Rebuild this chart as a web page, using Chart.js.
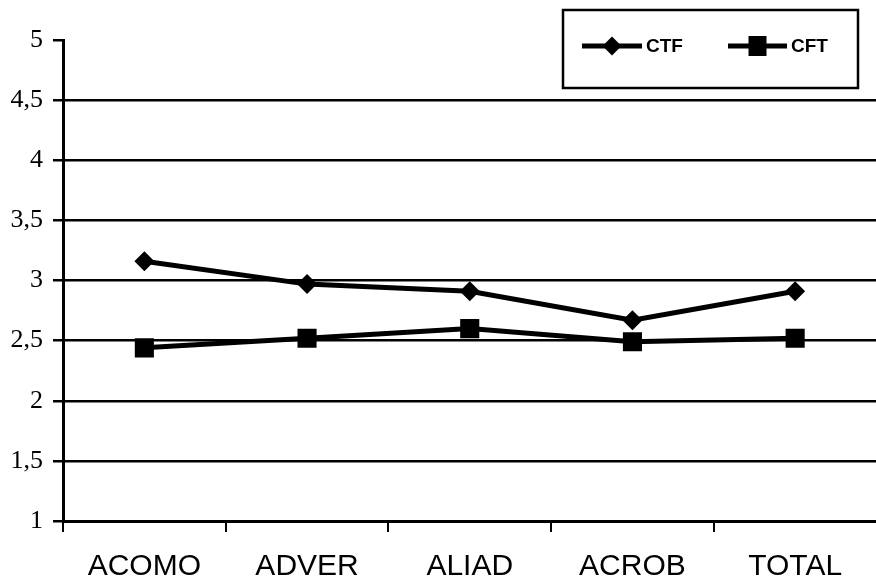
<!DOCTYPE html>
<html>
<head>
<meta charset="utf-8">
<script src="https://cdn.jsdelivr.net/npm/chart.js@4/dist/chart.umd.min.js"></script>
<style>
  html, body { margin: 0; padding: 0; background: #fff; overflow: hidden; }
  canvas { display: block; }
</style>
</head>
<body>
<canvas id="c" width="890" height="584"></canvas>
<script>
const categories = ['ACOMO', 'ADVER', 'ALIAD', 'ACROB', 'TOTAL'];
const ctfValues = [3.16, 2.97, 2.91, 2.67, 2.91];
const cftValues = [2.44, 2.52, 2.60, 2.49, 2.52];
const yTicks = [1, 1.5, 2, 2.5, 3, 3.5, 4, 4.5, 5];

// Boxed legend in the upper right, drawn from the dataset labels and point styles
const boxedLegend = {
  id: 'boxedLegend',
  afterDraw(chart) {
    const ctx = chart.ctx;
    ctx.save();
    ctx.strokeStyle = '#000';
    ctx.lineWidth = 2.5;
    ctx.strokeRect(563, 10, 295, 78);
    const items = [
      { x0: 582, x1: 642, tx: 646 },
      { x0: 728, x1: 787, tx: 791 }
    ];
    const y = 46;
    chart.data.datasets.forEach((ds, i) => {
      const it = items[i];
      ctx.strokeStyle = '#000';
      ctx.lineWidth = 5;
      ctx.beginPath();
      ctx.moveTo(it.x0, y);
      ctx.lineTo(it.x1, y);
      ctx.stroke();
      const cx = (it.x0 + it.x1) / 2;
      ctx.fillStyle = '#000';
      ctx.beginPath();
      if (ds.pointStyle === 'rectRot') {
        const r = 9.5;
        ctx.moveTo(cx - r, y);
        ctx.lineTo(cx, y - r);
        ctx.lineTo(cx + r, y);
        ctx.lineTo(cx, y + r);
        ctx.closePath();
      } else {
        ctx.rect(cx - 9, y - 10, 18, 20);
      }
      ctx.fill();
      ctx.font = 'bold 19px "Liberation Sans", Arial, sans-serif';
      ctx.textBaseline = 'middle';
      ctx.textAlign = 'left';
      ctx.fillText(ds.label, it.tx, y + 1);
    });
    ctx.restore();
  }
};

new Chart(document.getElementById('c'), {
  type: 'line',
  data: {
    labels: categories,
    datasets: [
      {
        label: 'CTF',
        data: ctfValues,
        borderColor: '#000',
        backgroundColor: '#000',
        borderWidth: 5,
        pointStyle: 'rectRot',
        pointRadius: 10,
        pointBackgroundColor: '#000',
        pointBorderColor: '#000',
        pointBorderWidth: 0,
        tension: 0
      },
      {
        label: 'CFT',
        data: cftValues,
        borderColor: '#000',
        backgroundColor: '#000',
        borderWidth: 5,
        pointStyle: 'rect',
        pointRadius: 13.5,
        pointBackgroundColor: '#000',
        pointBorderColor: '#000',
        pointBorderWidth: 0,
        tension: 0
      }
    ]
  },
  options: {
    responsive: false,
    animation: false,
    layout: { padding: { left: 0, top: 40, right: 5, bottom: 0 } },
    plugins: {
      legend: { display: false },
      tooltip: { enabled: false }
    },
    scales: {
      x: {
        type: 'category',
        offset: true,
        afterFit(scale) { scale.height = 63; },
        grid: {
          offset: true,
          drawOnChartArea: false,
          drawTicks: true,
          tickLength: 11,
          color: '#000',
          lineWidth: 2
        },
        border: { display: true, color: '#000', width: 3 },
        ticks: {
          color: '#000',
          padding: 17,
          font: { family: '"Liberation Sans", Arial, sans-serif', size: 30 }
        }
      },
      y: {
        min: 1,
        max: 5,
        afterFit(scale) { scale.width = 63; },
        afterBuildTicks(scale) {
          scale.ticks = yTicks.map(v => ({ value: v }));
        },
        grid: {
          color: c => (c.tick && c.tick.value === 5 ? 'rgba(0,0,0,0)' : '#000'),
          tickColor: '#000',
          lineWidth: 2.5,
          tickLength: 10,
          drawTicks: true
        },
        border: { display: true, color: '#000', width: 3 },
        ticks: {
          color: '#000',
          padding: 10,
          font: { family: '"Liberation Serif", "Times New Roman", serif', size: 26 },
          callback: v => String(v).replace('.', ',')
        }
      }
    }
  },
  plugins: [boxedLegend]
});
</script>
</body>
</html>
